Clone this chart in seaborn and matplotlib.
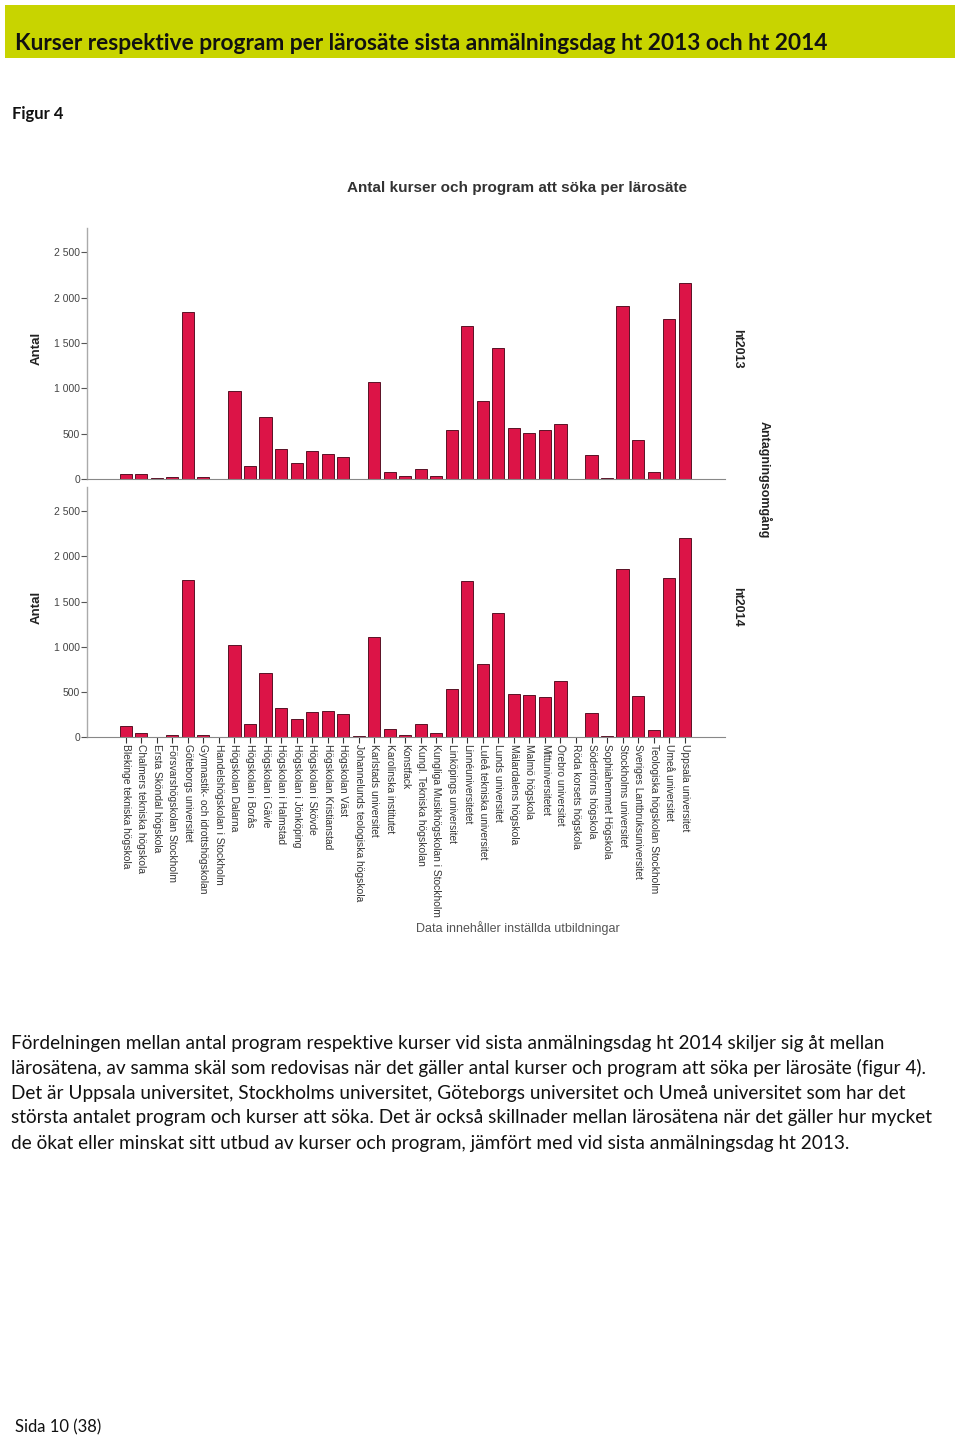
import matplotlib
matplotlib.use("Agg")
import matplotlib.pyplot as plt
import matplotlib.ticker as mticker
import seaborn as sns
import pandas as pd

# ---------------- data ----------------
larosaten = [
    "Blekinge tekniska högskola", "Chalmers tekniska högskola", "Ersta Sköndal högskola",
    "Försvarshögskolan Stockholm", "Göteborgs universitet", "Gymnastik- och idrottshögskolan",
    "Handelshögskolan i Stockholm", "Högskolan Dalarna", "Högskolan i Borås", "Högskolan i Gävle",
    "Högskolan i Halmstad", "Högskolan i Jönköping", "Högskolan i Skövde", "Högskolan Kristianstad",
    "Högskolan Väst", "Johannelunds teologiska högskola", "Karlstads universitet",
    "Karolinska institutet", "Konstfack", "Kungl. Tekniska högskolan",
    "Kungliga Musikhögskolan i Stockholm", "Linköpings universitet", "Linnéuniversitetet",
    "Luleå tekniska universitet", "Lunds universitet", "Mälardalens högskola", "Malmö högskola",
    "Mittuniversitetet", "Örebro universitet", "Röda korsets högskola", "Södertörns högskola",
    "Sophiahemmet Högskola", "Stockholms universitet", "Sveriges Lantbruksuniversitet",
    "Teologiska högskolan Stockholm", "Umeå universitet", "Uppsala universitet",
]
ht2013 = [60, 50, 10, 20, 1840, 18, 3, 975, 140, 688, 333, 178, 305, 278, 240, 5, 1073,
          74, 30, 111, 33, 537, 1684, 858, 1450, 566, 511, 544, 603, 3, 266, 15, 1906, 426,
          81, 1769, 2162]
ht2014 = [118, 44, 5, 22, 1739, 26, 2, 1018, 148, 710, 322, 204, 278, 288, 259, 10, 1110,
          89, 26, 148, 44, 537, 1728, 814, 1376, 481, 463, 444, 618, 2, 266, 10, 1857, 451,
          81, 1765, 2202]
omgangar = ["ht2013", "ht2014"]
y_ticks = [0, 500, 1000, 1500, 2000, 2500]

# ---------------- figure ----------------
W, H = 960, 1439
fig = plt.figure(figsize=(W / 100, H / 100), dpi=100)
fig.patch.set_facecolor("white")


def fx(px):
    return px / W


def fy(py):
    return 1 - py / H


# header band
fig.patches.append(plt.Rectangle((fx(5), fy(58)), fx(950), 53 / H, transform=fig.transFigure,
                                 facecolor="#c8d400", edgecolor="none", zorder=0))
fig.text(fx(15), fy(44), "Kurser respektive program per lärosäte sista anmälningsdag ht 2013 och ht 2014",
         fontsize=16.4, fontweight="bold", family="Lato", color="#111111", va="center", ha="left")
fig.text(fx(12), fy(114), "Figur 4", fontsize=12, fontweight="bold", family="Lato",
         color="#111111", va="center", ha="left")

# chart title
fig.text(fx(517), fy(188), "Antal kurser och program att söka per lärosäte", fontsize=11,
         fontweight="bold", family="Liberation Sans", color="#333333", va="center", ha="center")

bar_color = "#dc1447"
edge_color = "#5a1226"
label_gray = "#444444"

left, right = 87, 725
axes_px = [(228, 479), (487, 737)]
series = [ht2013, ht2014]
axs = []
for i, ((top, bot), vals) in enumerate(zip(axes_px, series)):
    ax = fig.add_axes([fx(left), fy(bot), (right - left) / W, (bot - top) / H])
    df = pd.DataFrame({"Lärosäte": larosaten, "Antal": vals})
    sns.barplot(data=df, x="Lärosäte", y="Antal", order=larosaten, color=bar_color,
                saturation=1, width=0.78, edgecolor=edge_color, linewidth=0.7, ax=ax)
    ax.set_xlim(-2.5, 38.6)
    ax.set_ylim(0, 2770)
    ax.set_yticks(y_ticks)
    ax.yaxis.set_major_formatter(mticker.FuncFormatter(lambda v, p: f"{int(v):,}".replace(",", " ")))
    ax.tick_params(axis="y", labelsize=7.5, labelcolor=label_gray, length=4, width=0.8,
                   color="#555555", pad=1)
    for lab in ax.get_yticklabels():
        lab.set_family("Liberation Sans")
    ax.set_ylabel("")
    ax.set_xlabel("")
    for s in ["top", "right"]:
        ax.spines[s].set_visible(False)
    ax.spines["left"].set_color("#aaaaaa")
    ax.spines["left"].set_linewidth(1.0)
    ax.spines["bottom"].set_color("#888888")
    ax.spines["bottom"].set_linewidth(0.8)
    ax.set_facecolor("none")
    if i == 0:
        ax.tick_params(axis="x", bottom=False, labelbottom=False)
    else:
        ax.tick_params(axis="x", length=4, width=0.8, color="#333333", pad=1, labelsize=7.4,
                       labelcolor="#333333")
        ax.set_xticks(range(len(larosaten)))
        ax.set_xticklabels(larosaten, rotation=-90, ha="center", va="top",
                           family="Liberation Sans")
    fig.text(fx(37), fy((top + bot) / 2 - 5), "Antal", rotation=90, fontsize=9.5, fontweight="bold",
             family="Liberation Sans", color="#222222", va="center", ha="center")
    fig.text(fx(737), fy((top + bot) / 2 - 5), omgangar[i], rotation=-90, fontsize=9,
             fontweight="bold", family="Liberation Sans", color="#222222", va="center", ha="center")
    axs.append(ax)

fig.text(fx(765), fy(480), "Antagningsomgång", rotation=-90, fontsize=9, fontweight="bold",
         family="Liberation Sans", color="#222222", va="center", ha="center")
fig.text(fx(518), fy(928), "Data innehåller inställda utbildningar", fontsize=9,
         family="Liberation Sans", color="#555555", va="center", ha="center")

# body text
lines = [
    "Fördelningen mellan antal program respektive kurser vid sista anmälningsdag ht 2014 skiljer sig åt mellan",
    "lärosätena, av samma skäl som redovisas när det gäller antal kurser och program att söka per lärosäte (figur 4).",
    "Det är Uppsala universitet, Stockholms universitet, Göteborgs universitet och Umeå universitet som har det",
    "största antalet program och kurser att söka. Det är också skillnader mellan lärosätena när det gäller hur mycket",
    "de ökat eller minskat sitt utbud av kurser och program, jämfört med vid sista anmälningsdag ht 2013.",
]
for k, line in enumerate(lines):
    fig.text(fx(11), fy(1043 + 25 * k), line, fontsize=13.7, family="Lato", color="#111111",
             va="center", ha="left")

fig.text(fx(15), fy(1427), "Sida 10 (38)", fontsize=12, family="Lato", color="#111111",
         va="center", ha="left")

fig.savefig("out.png", dpi=100, facecolor="white")
